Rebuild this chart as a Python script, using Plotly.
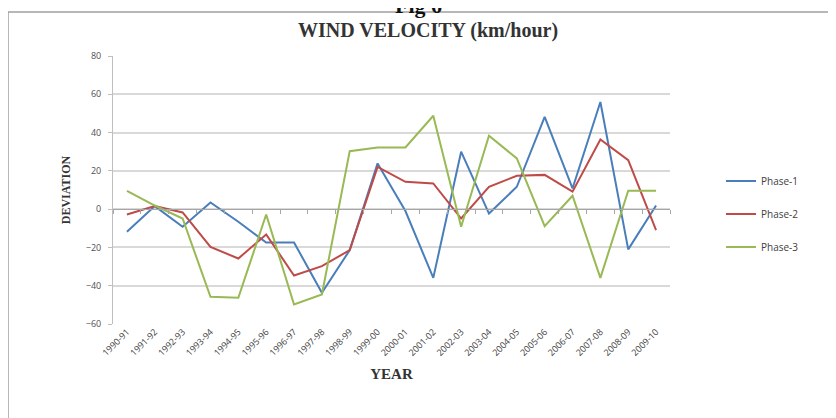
import plotly.graph_objects as go

years = ["1990-91", "1991-92", "1992-93", "1993-94", "1994-95", "1995-96", "1996-97",
         "1997-98", "1998-99", "1999-00", "2000-01", "2001-02", "2002-03", "2003-04",
         "2004-05", "2005-06", "2006-07", "2007-08", "2008-09", "2009-10"]
phase1 = [-11.8, 1.6, -9.2, 3.5, -6.6, -17.4, -17.4, -43.7, -21.4, 23.9,
          -1.0, -35.9, 30.0, -2.3, 11.7, 48.2, 10.8, 56.0, -21.0, 1.9]
phase2 = [-2.8, 1.6, -1.7, -19.7, -25.8, -13.2, -34.7, -29.8, -21.4, 22.1,
          14.3, 13.4, -4.9, 11.7, 17.4, 17.9, 9.1, 36.4, 25.6, -11.0]
phase3 = [9.6, 1.9, -4.9, -45.8, -46.3, -2.8, -49.8, -44.6, 30.3, 32.2,
          32.2, 48.8, -9.2, 38.3, 26.5, -8.9, 7.0, -35.9, 9.6, 9.6]
y_ticks = [-60, -40, -20, 0, 20, 40, 60, 80]

series = [("Phase-1", phase1, "#4A7EBB"),
          ("Phase-2", phase2, "#BE4B48"),
          ("Phase-3", phase3, "#98B954")]

fig = go.Figure()
for name, vals, col in series:
    fig.add_trace(go.Scatter(x=years, y=vals, mode="lines", name=name, legendgroup=name,
                             line=dict(color=col, width=2)))
# invisible trace to carry the zero-crossing category axis
fig.add_trace(go.Scatter(x=years, y=[0] * len(years), xaxis="x2", mode="lines",
                         line=dict(width=0), showlegend=False, hoverinfo="skip"))

# page body adds an 8px offset; plot area targets screen 113..670 x 56..324
PX0, PY0, PW, PH = 113, 56, 557, 268
OFF = 8


def px(x):
    return (x - PX0) / PW


def py(y):
    return (PY0 + PH - y) / PH


SERIF = "Liberation Serif, Times New Roman"
SANS = "Open Sans, Arial"

ymin, ymax = -60, 80
fig.update_layout(
    width=836, height=418,
    margin=dict(l=PX0 - OFF, r=836 - (PX0 - OFF) - PW, t=PY0 - OFF, b=418 - (PY0 - OFF) - PH),
    paper_bgcolor="white", plot_bgcolor="white",
    showlegend=True,
    legend=dict(x=px(721), y=py(214), xanchor="left", yanchor="middle",
                font=dict(family=SANS, size=10, color="#404040"),
                tracegroupgap=14, itemwidth=30, bgcolor="rgba(0,0,0,0)"),
    xaxis=dict(type="category", showgrid=False, zeroline=False, showline=False, automargin=False,
               tickangle=-45, tickfont=dict(family=SANS, size=9, color="#404040"),
               ticks="", range=[-0.5, len(years) - 0.5],
               title=dict(text="<b>YEAR</b>", font=dict(family=SERIF, size=15, color="#333"),
                          standoff=10)),
    xaxis2=dict(type="category", overlaying="x", anchor="free", automargin=False,
                position=(0 - ymin) / (ymax - ymin), side="bottom",
                showgrid=False, zeroline=False, showline=True, linecolor="#A6A6A6", linewidth=1,
                ticks="outside", ticklen=4, tickcolor="#A6A6A6", tickson="boundaries",
                showticklabels=False, range=[-0.5, len(years) - 0.5]),
    yaxis=dict(range=[ymin, ymax], tickvals=y_ticks, showgrid=True, gridcolor="#D9D9D9",
               gridwidth=1.5, zeroline=False, showline=True, linecolor="#BFBFBF", automargin=False,
               ticks="outside", ticklen=4, tickcolor="#BFBFBF", ticklabelstandoff=5,
               tickfont=dict(family=SANS, size=9, color="#505050"),
               title=dict(text="<b>DEVIATION</b>", font=dict(family=SERIF, size=12, color="#333"),
                          standoff=12)),
)

# title and figure caption
fig.add_annotation(text="<b>WIND VELOCITY (km/hour)</b>", xref="paper", yref="paper",
                   x=px(428), y=py(30), xanchor="center", yanchor="middle",
                   showarrow=False, font=dict(family=SERIF, size=20, color="#333"))
fig.add_annotation(text="<b>Fig 6</b>", xref="paper", yref="paper",
                   x=px(418), y=py(20), xanchor="center", yanchor="bottom",
                   showarrow=False, font=dict(family=SERIF, size=22, color="#111"))
# outer chart frame
fig.add_shape(type="rect", xref="paper", yref="paper",
              x0=px(8), x1=px(850), y0=py(440), y1=py(12),
              line=dict(color="#A0A0A0", width=1.5), layer="below")

fig.write_html("out.html")
